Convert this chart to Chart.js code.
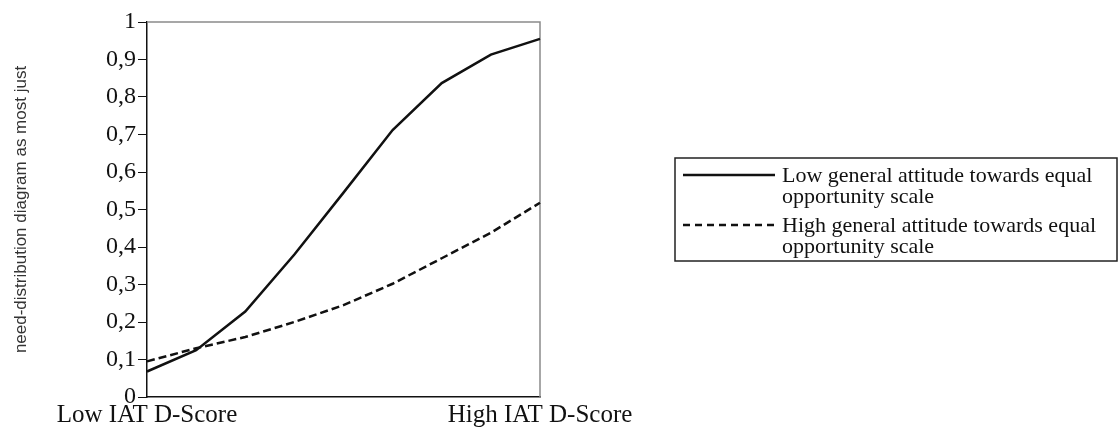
<!DOCTYPE html>
<html lang="en">
<head>
    <meta charset="UTF-8">
    <title>IAT D-Score chart</title>
    <style>
        html, body {
            margin: 0;
            padding: 0;
            background: #fff;
        }
        .chart-container {
            width: 1118px;
            height: 430px;
        }
    </style>
</head>
<body>
    <div class="chart-container">
        <canvas id="iatChart"></canvas>
    </div>

    <script src="https://cdn.jsdelivr.net/npm/chart.js"></script>
    <script>
        // Chart data
        const positions = [0, 1, 2, 3, 4, 5, 6, 7, 8];
        const lowAttitude = [0.068, 0.125, 0.228, 0.38, 0.545, 0.712, 0.837, 0.913, 0.955];
        const highAttitude = [0.095, 0.13, 0.16, 0.2, 0.245, 0.302, 0.37, 0.438, 0.518];
        const xTickLabels = ['Low IAT D-Score', '', '', '', '', '', '', '', 'High IAT D-Score'];
        const yTitle = 'need-distribution diagram as most just';
        const legendLines = [
            ['Low general attitude towards equal', 'opportunity scale'],
            ['High general attitude towards equal', 'opportunity scale']
        ];

        const serif = "'Liberation Serif', 'Times New Roman', serif";

        // Draws the grey top/right frame and the boxed legend
        const extrasPlugin = {
            id: 'extras',
            beforeDatasetsDraw(chart) {
                const ctx = chart.ctx;
                const a = chart.chartArea;
                ctx.save();
                ctx.strokeStyle = '#8a8a8a';
                ctx.lineWidth = 1.5;
                ctx.beginPath();
                ctx.moveTo(a.left, a.top);
                ctx.lineTo(a.right, a.top);
                ctx.lineTo(a.right, a.bottom);
                ctx.stroke();
                ctx.restore();
            },
            afterDraw(chart) {
                const ctx = chart.ctx;
                ctx.save();
                // legend box
                const bx = 675, by = 158, bw = 442, bh = 103;
                ctx.strokeStyle = '#222';
                ctx.lineWidth = 1.5;
                ctx.strokeRect(bx, by, bw, bh);
                ctx.fillStyle = '#111';
                ctx.font = '22px ' + serif;
                ctx.textAlign = 'left';
                ctx.textBaseline = 'middle';
                chart.data.datasets.forEach((ds, i) => {
                    const y0 = by + 17 + i * 50;
                    ctx.beginPath();
                    ctx.setLineDash(ds.borderDash ? [7, 5] : []);
                    ctx.strokeStyle = ds.borderColor;
                    ctx.lineWidth = ds.borderWidth;
                    ctx.moveTo(bx + 8, y0);
                    ctx.lineTo(bx + 100, y0);
                    ctx.stroke();
                    ctx.setLineDash([]);
                    legendLines[i].forEach((t, j) => {
                        ctx.fillText(t, bx + 107, y0 + 1 + j * 21);
                    });
                });
                ctx.restore();
            }
        };

        const ctx = document.getElementById('iatChart').getContext('2d');
        const chart = new Chart(ctx, {
            type: 'line',
            data: {
                labels: positions,
                datasets: [{
                    label: legendLines[0].join(' '),
                    data: lowAttitude,
                    borderColor: '#111',
                    borderWidth: 2.5,
                    pointRadius: 0,
                    tension: 0,
                    fill: false
                }, {
                    label: legendLines[1].join(' '),
                    data: highAttitude,
                    borderColor: '#111',
                    borderWidth: 2.5,
                    borderDash: [8, 4],
                    pointRadius: 0,
                    tension: 0,
                    fill: false
                }]
            },
            options: {
                responsive: true,
                maintainAspectRatio: false,
                animation: false,
                layout: {
                    padding: { top: 22, right: 578, left: 0, bottom: 0 }
                },
                plugins: {
                    legend: { display: false },
                    tooltip: { enabled: false }
                },
                scales: {
                    x: {
                        type: 'category',
                        offset: false,
                        grid: { display: false, drawTicks: false },
                        border: { color: '#111', width: 1.5 },
                        ticks: {
                            autoSkip: false,
                            maxRotation: 0,
                            padding: 3,
                            color: '#111',
                            font: { family: serif, size: 25 },
                            callback: (v, i) => xTickLabels[i]
                        },
                        afterFit(scale) { scale.height = 33; }
                    },
                    y: {
                        min: 0,
                        max: 1,
                        ticks: {
                            stepSize: 0.1,
                            color: '#111',
                            padding: 2,
                            font: { family: serif, size: 24 },
                            callback: v => String(Math.round(v * 10) / 10).replace('.', ',')
                        },
                        grid: {
                            drawOnChartArea: false,
                            tickLength: 9,
                            tickColor: '#111',
                            lineWidth: 1
                        },
                        border: { color: '#111', width: 1.5 },
                        title: {
                            display: true,
                            text: yTitle,
                            color: '#333',
                            font: { family: "'Liberation Sans', Arial, sans-serif", size: 17 },
                            padding: { top: 11, bottom: 0 }
                        },
                        afterFit(scale) { scale.width = 147; }
                    }
                }
            },
            plugins: [extrasPlugin]
        });
    </script>
</body>
</html>
